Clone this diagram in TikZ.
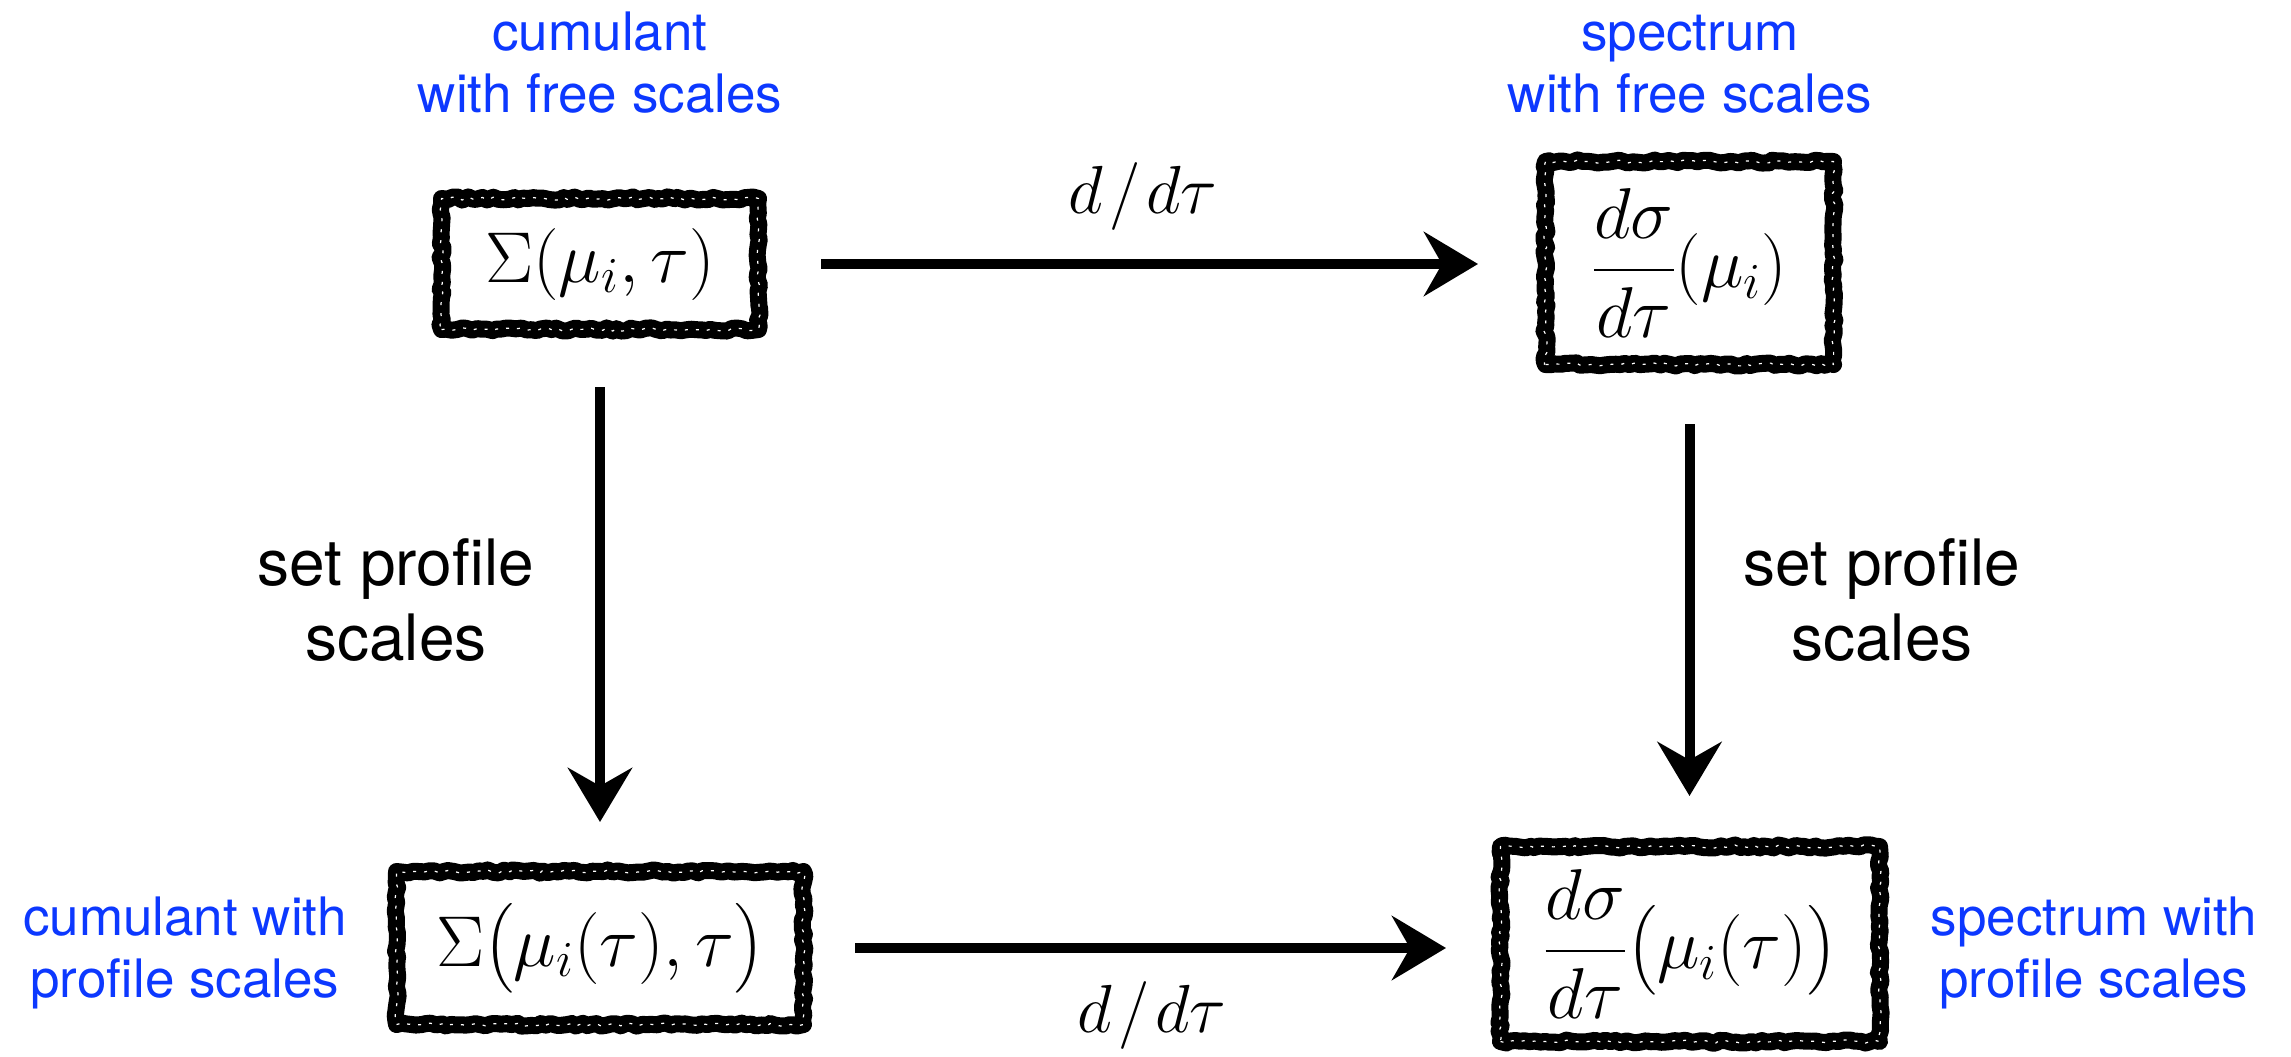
\RequirePackage{fix-cm}
\documentclass[tikz,border=0pt]{standalone}
\usepackage{amsmath}
\usepackage{fontspec}
\setsansfont{TeX Gyre Heros}
\usetikzlibrary{arrows.meta,decorations.pathmorphing}
\definecolor{labelblue}{RGB}{12,56,255}
\tikzset{
  roughbox/.style={rectangle, inner sep=0pt, line width=8.5pt, line join=round,
    draw, decorate, decoration={random steps, segment length=2.5pt, amplitude=0.8pt},
    postaction={draw=white, line width=0.6pt, dash pattern=on 1.5pt off 4pt,
      decorate, decoration={random steps, segment length=3pt, amplitude=2.2pt}},
    font=\fontsize{36}{43}\selectfont},
  flow/.style={line width=5pt, -{Stealth[length=27pt,width=32pt,inset=9pt]}},
  bluelabel/.style={align=center, inner sep=0pt, text=labelblue,
    font=\sffamily\fontsize{26.5}{31}\selectfont},
  blacklabel/.style={align=center, inner sep=0pt,
    font=\sffamily\fontsize{32}{37.5}\selectfont},
  deriv/.style={inner sep=0pt, font=\fontsize{34}{40}\selectfont}
}
\begin{document}
\begin{tikzpicture}[x=0.5pt,y=-0.5pt]
\pgfmathsetseed{7}
\useasboundingbox (0,0) rectangle (2291,1056);
\node[roughbox, minimum width=158.5pt, minimum height=65.5pt] (b1) at (600,264) {$\Sigma(\mu_i,\tau)$};
\node[roughbox, minimum width=144pt, minimum height=101.5pt] (b2) at (1689.5,263) {$\dfrac{d\sigma}{d\tau}(\mu_i)$};
\node[roughbox, minimum width=203.5pt, minimum height=76.5pt] (b3) at (600,948) {$\Sigma\bigl(\mu_i(\tau),\tau\bigr)$};
\node[roughbox, minimum width=189.5pt, minimum height=97.5pt] (b4) at (1690,944) {$\dfrac{d\sigma}{d\tau}\bigl(\mu_i(\tau)\bigr)$};

\draw[flow, shorten <=27pt, shorten >=29.5pt] (b1.east) -- (b2.west |- b1.east);
\draw[flow, shorten <=21.5pt, shorten >=23pt] (b3.east) -- (b4.west |- b3.east);
\draw[flow, shorten <=24.5pt, shorten >=20.5pt] (b1.south) -- (b3.north);
\draw[flow, shorten <=25.5pt, shorten >=21pt] (b2.south) -- (b2.south |- b4.north);

\node[deriv, anchor=base] (dtop) at (1143,213) {$d\mkern1.5mu/\mkern1.5mu d\tau$};
\node[deriv, anchor=base] (dbot) at (1152,1032) {$d\mkern1.5mu/\mkern1.5mu d\tau$};

\node[blacklabel, anchor=base] (sl) at (396,660) {set profile\\scales};
\node[blacklabel, anchor=base] (sr) at (1882,660) {set profile\\scales};

\node[bluelabel, anchor=base] (tl) at (600,112) {cumulant\\with free scales};
\node[bluelabel, anchor=base] (tr) at (1690,112) {spectrum\\with free scales};
\node[bluelabel, anchor=base] (bl) at (185,997) {cumulant with\\profile scales};
\node[bluelabel, anchor=base] (br) at (2094,997) {spectrum with\\profile scales};
\end{tikzpicture}
\end{document}
